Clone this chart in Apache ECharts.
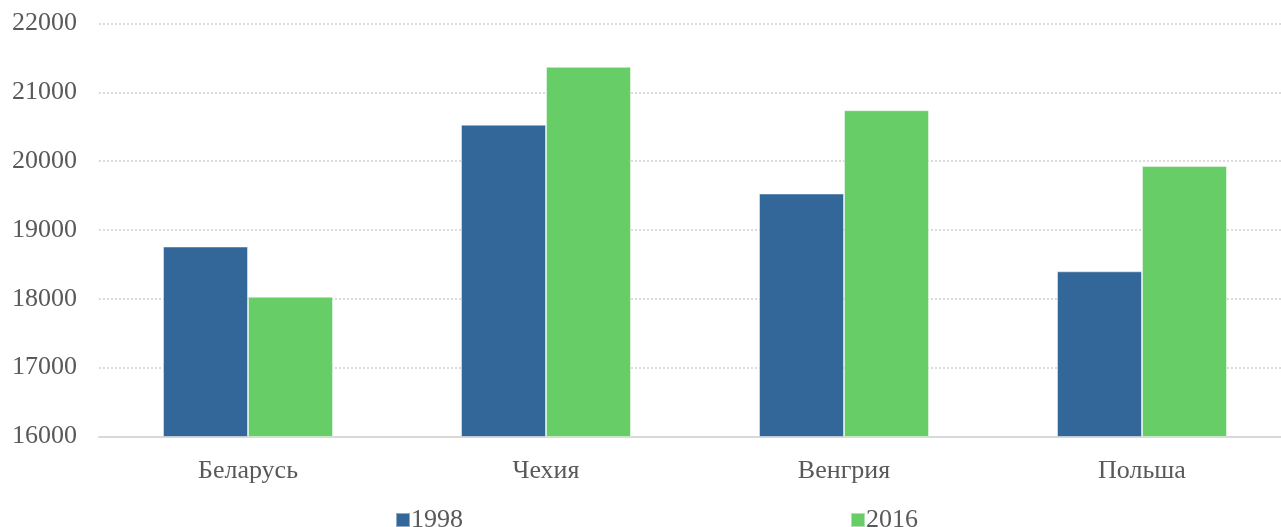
<!DOCTYPE html>
<html><head><meta charset="utf-8">
<script src="https://cdn.jsdelivr.net/npm/echarts@6/dist/echarts.min.js"></script>
<style>html,body{margin:0;padding:0;background:#fff;overflow:hidden;width:1281px;height:527px}#c{width:1300px;height:527px}</style>
</head><body><div id="c"></div>
<script>
const categories = ['Беларусь', 'Чехия', 'Венгрия', 'Польша'];
const series1998 = [18760, 20530, 19530, 18400];
const series2016 = [18030, 21370, 20740, 19930];
const seriesNames = ['1998', '2016'];
const yMin = 16000, yMax = 22000, yStep = 1000;

const font = 'Liberation Serif';
const chart = echarts.init(document.getElementById('c'));
chart.setOption({
  animation: false,
  textStyle: { fontFamily: font },
  grid: { left: 99, top: 23.5, height: 413, width: 1192 },
  legend: [
    { data: [seriesNames[0]], left: 390, top: 502, icon: 'rect', itemWidth: 14, itemHeight: 14, itemGap: 0,
      textStyle: { fontFamily: font, fontSize: 26, color: '#595959', padding: [0, 0, 0, -4] } },
    { data: [seriesNames[1]], left: 845, top: 502, icon: 'rect', itemWidth: 14, itemHeight: 14, itemGap: 0,
      textStyle: { fontFamily: font, fontSize: 26, color: '#595959', padding: [0, 0, 0, -4] } }
  ],
  xAxis: {
    type: 'category', data: categories,
    axisLine: { lineStyle: { color: '#d9d9d9', width: 2 } },
    axisTick: { show: false },
    axisLabel: { fontFamily: font, fontSize: 26, color: '#595959', margin: 22 }
  },
  yAxis: {
    type: 'value', min: yMin, max: yMax, interval: yStep,
    axisLine: { show: false }, axisTick: { show: false },
    axisLabel: { fontFamily: font, fontSize: 26, color: '#595959', margin: 22, formatter: v => String(v) },
    splitLine: { lineStyle: { color: '#d0d0d0', type: [2, 2], width: 1.5 } }
  },
  series: [
    { name: seriesNames[0], type: 'bar', data: series1998, barWidth: 85, barGap: '0%',
      itemStyle: { color: '#346799', borderColor: 'rgba(255,255,255,0.45)', borderWidth: 1 } },
    { name: seriesNames[1], type: 'bar', data: series2016, barWidth: 85,
      itemStyle: { color: '#67cd67', borderColor: 'rgba(255,255,255,0.45)', borderWidth: 1 } }
  ]
});
</script></body></html>
